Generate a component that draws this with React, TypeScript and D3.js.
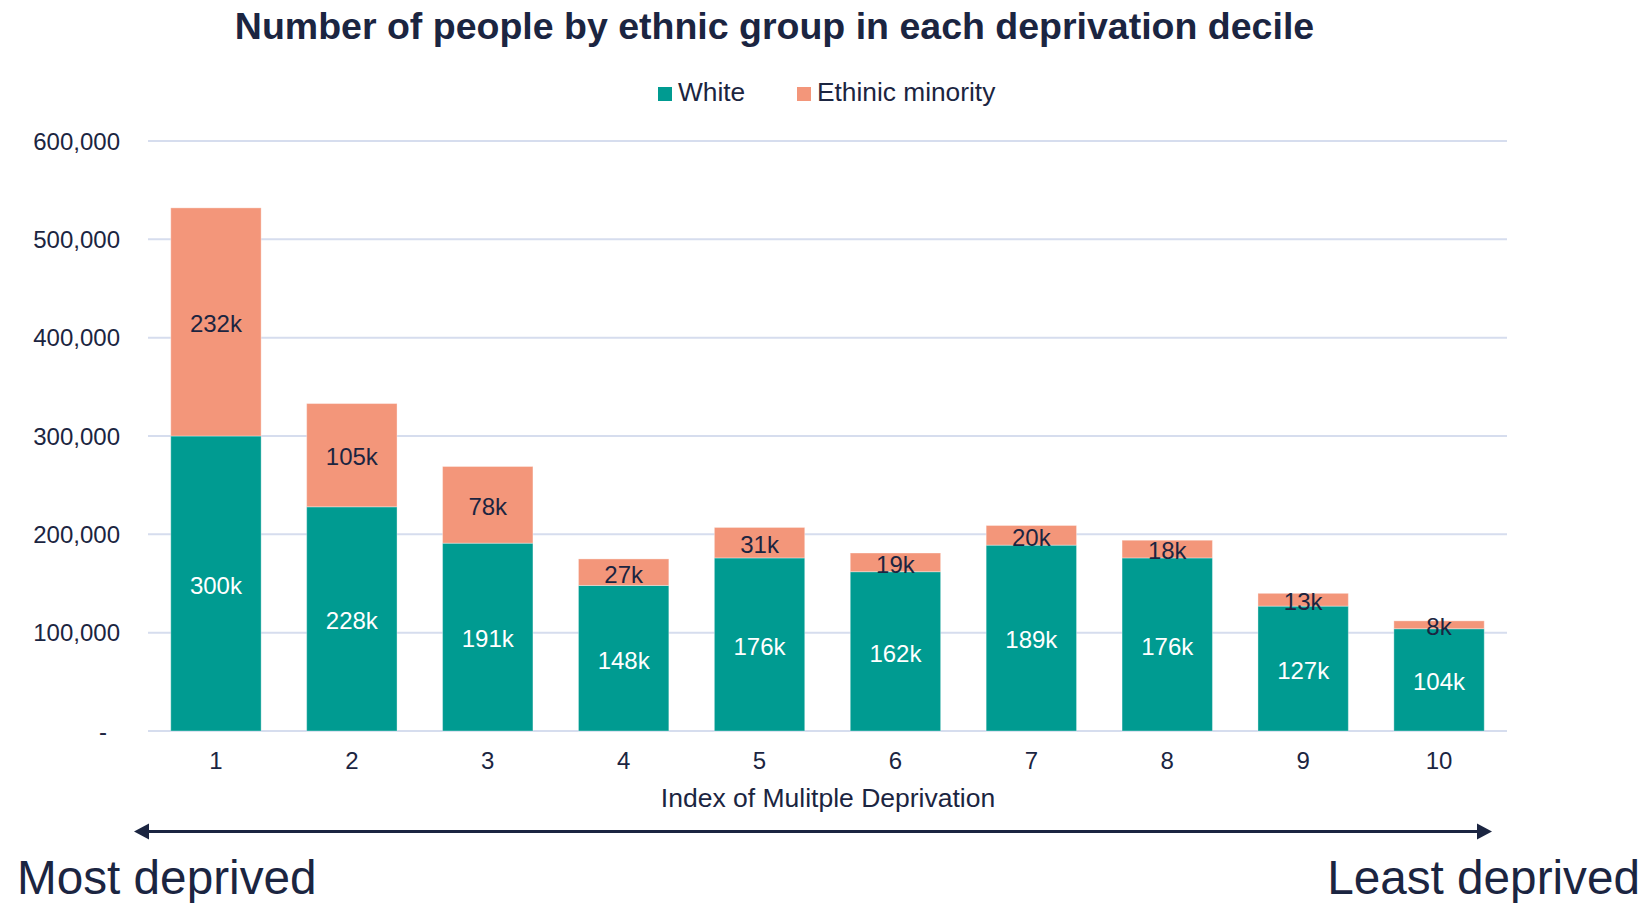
import React from "react";
import * as d3 from "d3";

const deciles = ["1", "2", "3", "4", "5", "6", "7", "8", "9", "10"];
const whiteValues = [300, 228, 191, 148, 176, 162, 189, 176, 127, 104];
const minorityValues = [232, 105, 78, 27, 31, 19, 20, 18, 13, 8];
const yTicks = [0, 100000, 200000, 300000, 400000, 500000, 600000];
const seriesNames = ["White", "Ethinic minority"];

const W = 1647;
const H = 903;
const TEAL = "#009B91";
const SALMON = "#F3967A";
const NAVY = "#1B2541";
const GRID = "#D6DDEE";
const FONT = "'Liberation Sans', Arial, sans-serif";

export default function App() {
  const x = d3
    .scaleBand<string>()
    .domain(deciles)
    .range([148, 1507])
    .paddingInner(0.335)
    .paddingOuter(0.1675);
  const y = d3.scaleLinear().domain([0, 600000]).range([731, 141]);

  const rows = deciles.map((d, i) => ({
    decile: d,
    White: whiteValues[i] * 1000,
    "Ethinic minority": minorityValues[i] * 1000,
  }));
  const stack = d3.stack<any>().keys(seriesNames)(rows);
  const colors = [TEAL, SALMON];
  const labelColors = ["#FFFFFF", NAVY];
  const fmtTick = (v: number) => (v === 0 ? "-" : d3.format(",")(v));

  const arrowY = 831.5;
  const arrowL = 134;
  const arrowR = 1492;

  return (
    <div style={{ position: "absolute", left: 0, top: 0 }}>
      <svg width={W} height={H} style={{ display: "block", background: "#fff" }} fontFamily={FONT}>
        <text x={774.5} y={39} textAnchor="middle" fontSize={37.5} fontWeight="bold" fill={NAVY}>
          Number of people by ethnic group in each deprivation decile
        </text>

        {/* legend */}
        <rect x={658} y={87} width={14} height={14} fill={TEAL} />
        <text x={678} y={101} fontSize={26.3} fill={NAVY}>White</text>
        <rect x={797} y={87} width={14} height={14} fill={SALMON} />
        <text x={817} y={101} fontSize={26.3} fill={NAVY}>Ethinic minority</text>

        {/* gridlines */}
        {yTicks.map((t) => (
          <g key={t}>
            <line x1={148} x2={1507} y1={y(t)} y2={y(t)} stroke={GRID} strokeWidth={2} />
            <text
              x={t === 0 ? 107 : 120}
              y={y(t)}
              dy="0.36em"
              textAnchor="end"
              fontSize={24}
              fill={NAVY}
            >
              {fmtTick(t)}
            </text>
          </g>
        ))}

        {/* bars */}
        {stack.map((layer, si) => (
          <g key={layer.key}>
            {layer.map((seg: any, i: number) => (
              <rect
                key={i}
                x={x(deciles[i])}
                width={x.bandwidth()}
                y={y(seg[1])}
                height={y(seg[0]) - y(seg[1])}
                fill={colors[si]}
                stroke="rgba(255,255,255,0.35)"
                strokeWidth={1}
              />
            ))}
          </g>
        ))}

        {/* data labels */}
        {stack.map((layer, si) => (
          <g key={"l" + layer.key}>
            {layer.map((seg: any, i: number) => (
              <text
                key={i}
                x={(x(deciles[i]) as number) + x.bandwidth() / 2}
                y={(y(seg[0]) + y(seg[1])) / 2}
                dy="0.43em"
                textAnchor="middle"
                fontSize={24}
                fill={labelColors[si]}
              >
                {(seg[1] - seg[0]) / 1000}k
              </text>
            ))}
          </g>
        ))}

        {/* x tick labels */}
        {deciles.map((d) => (
          <text
            key={d}
            x={(x(d) as number) + x.bandwidth() / 2}
            y={768.5}
            textAnchor="middle"
            fontSize={24}
            fill={NAVY}
          >
            {d}
          </text>
        ))}

        <text x={828} y={806.5} textAnchor="middle" fontSize={26.5} fill={NAVY}>
          Index of Mulitple Deprivation
        </text>

        {/* arrow */}
        <line x1={arrowL + 10} x2={arrowR - 10} y1={arrowY} y2={arrowY} stroke={NAVY} strokeWidth={3} />
        <polygon
          points={`${arrowL},${arrowY} ${arrowL + 15},${arrowY - 8} ${arrowL + 15},${arrowY + 8}`}
          fill={NAVY}
        />
        <polygon
          points={`${arrowR},${arrowY} ${arrowR - 15},${arrowY - 8} ${arrowR - 15},${arrowY + 8}`}
          fill={NAVY}
        />

        <text x={17} y={894} fontSize={47.7} fill={NAVY}>Most deprived</text>
        <text x={1640} y={894} textAnchor="end" fontSize={47.7} fill={NAVY}>Least deprived</text>
      </svg>
    </div>
  );
}
